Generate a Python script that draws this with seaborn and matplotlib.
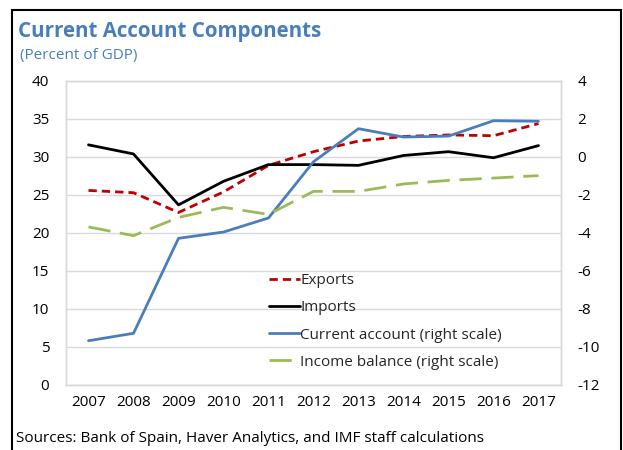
import numpy as np
import pandas as pd
import seaborn as sns
import matplotlib
matplotlib.use("Agg")
import matplotlib.pyplot as plt
from matplotlib.patches import Rectangle

sns.set_theme(style="white")
plt.rcParams['font.family'] = ['Open Sans', 'DejaVu Sans']
plt.rcParams['axes.unicode_minus'] = False

# data
years = [2007, 2008, 2009, 2010, 2011, 2012, 2013, 2014, 2015, 2016, 2017]
exports = [25.6, 25.3, 22.7, 25.4, 28.9, 30.7, 32.1, 32.7, 32.9, 32.8, 34.4]
imports = [31.6, 30.4, 23.7, 26.8, 29.0, 29.0, 28.9, 30.2, 30.7, 29.9, 31.5]
current_account = [-9.67, -9.28, -4.28, -3.95, -3.21, -0.25, 1.49, 1.05, 1.1, 1.91, 1.88]
income_balance = [-3.68, -4.14, -3.18, -2.65, -3.02, -1.81, -1.81, -1.42, -1.23, -1.11, -0.98]

left_df = pd.DataFrame({"year": years, "Exports": exports, "Imports": imports})
right_df = pd.DataFrame({"year": years, "Current account (right scale)": current_account,
                         "Income balance (right scale)": income_balance})

title_color = "#4A7EBB"
red = "#C00000"
blue = "#4A7EBB"
green = "#9BBB59"

fig = plt.figure(figsize=(6.23, 4.5), dpi=100)
ax = fig.add_axes([66/623, 1-385/450, (561-66)/623, (385-81)/450])
ax2 = ax.twinx()

sns.lineplot(data=left_df, x="year", y="Exports", ax=ax, color=red, linewidth=2,
             label="Exports")
ax.lines[-1].set_dashes([3, 1.8])
sns.lineplot(data=left_df, x="year", y="Imports", ax=ax, color="black", linewidth=2,
             label="Imports")
sns.lineplot(data=right_df, x="year", y="Current account (right scale)", ax=ax2, color=blue,
             linewidth=2, label="Current account (right scale)")
sns.lineplot(data=right_df, x="year", y="Income balance (right scale)", ax=ax2, color=green,
             linewidth=2, label="Income balance (right scale)")
ax2.lines[-1].set_dashes([8, 3.5])

ax.set_ylim(0, 40)
ax.set_yticks(np.arange(0, 41, 5))
ax2.set_ylim(-12, 4)
ax2.set_yticks(np.arange(-12, 5, 2))
ax.set_xlim(2006.5, 2017.5)
ax.set_xticks(years)
ax.set_xticklabels([str(y) for y in years])
ax.set_xticks(np.arange(2007.5, 2017, 1), minor=True)

ax.grid(axis="y", color="#D9D9D9", linewidth=1)
ax.set_axisbelow(True)
for a in (ax, ax2):
    for s in a.spines.values():
        s.set_color("#D9D9D9")
        s.set_linewidth(1)
    a.set_xlabel("")
    a.set_ylabel("")

ax.tick_params(axis="x", which="major", length=0, labelsize=11, pad=7, colors="black")
ax.tick_params(axis="x", which="minor", direction="in", length=5, color="#D9D9D9", width=1)
ax.tick_params(axis="y", length=0, labelsize=11, pad=12, colors="black")
ax2.tick_params(axis="y", length=0, labelsize=11, pad=12, colors="black")

# combined legend
h1, l1 = ax.get_legend_handles_labels()
h2, l2 = ax2.get_legend_handles_labels()
if ax2.get_legend():
    ax2.get_legend().remove()
ax.legend(h1 + h2, l1 + l2, loc="lower left", bbox_to_anchor=(0.398, 0.03), frameon=False,
          fontsize=11, handlelength=2.0, handletextpad=0.05, labelspacing=0.8,
          borderaxespad=0)

fig.text(18/623, 1-32/450, "Current Account Components", color=title_color, fontsize=14.8,
         fontweight="bold", va="center", ha="left")
fig.text(20/623, 1-56/450, "(Percent of GDP)", color=title_color, fontsize=11,
         va="center", ha="left")
fig.text(16/623, 1-438/450, "Sources: Bank of Spain, Haver Analytics, and IMF staff calculations",
         color="black", fontsize=11, va="center", ha="left")

fig.patches.append(Rectangle((12/623, -0.1), (621-12)/623, 1.1-10/450, transform=fig.transFigure,
                             fill=False, edgecolor="black", linewidth=1.5))

fig.savefig("out.png", dpi=100)
